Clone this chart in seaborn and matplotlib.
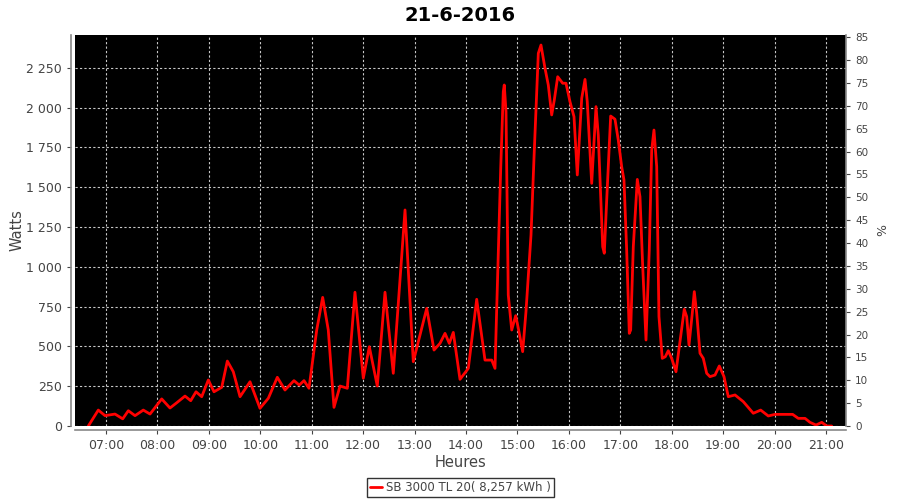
import matplotlib
matplotlib.use("Agg")
import matplotlib.pyplot as plt
import matplotlib.ticker as mticker
import seaborn as sns
import pandas as pd

title = "21-6-2016"
series_name = "SB 3000 TL 20( 8,257 kWh )"
hour_ticks = [7, 8, 9, 10, 11, 12, 13, 14, 15, 16, 17, 18, 19, 20, 21]
hour_labels = ["07:00", "08:00", "09:00", "10:00", "11:00", "12:00", "13:00", "14:00",
               "15:00", "16:00", "17:00", "18:00", "19:00", "20:00", "21:00"]
hours = [6.656, 6.850, 6.981, 7.175, 7.325, 7.434, 7.564, 7.725, 7.856,
         8.083, 8.244, 8.375, 8.536, 8.647, 8.750, 8.861, 8.989, 9.100,
         9.250, 9.359, 9.475, 9.606, 9.800, 9.994, 10.156, 10.331, 10.480,
         10.655, 10.758, 10.850, 10.947, 11.097, 11.213, 11.322, 11.433, 11.550,
         11.692, 11.841, 12.003, 12.120, 12.275, 12.425, 12.586, 12.814, 12.975,
         13.236, 13.378, 13.494, 13.592, 13.675, 13.753, 13.883, 14.045, 14.208,
         14.369, 14.500, 14.564, 14.675, 14.725, 14.744, 14.778, 14.822, 14.889,
         14.966, 15.017, 15.102, 15.166, 15.264, 15.322, 15.406, 15.458, 15.536,
         15.600, 15.666, 15.717, 15.783, 15.880, 15.944, 16.022, 16.100, 16.164,
         16.250, 16.314, 16.358, 16.444, 16.528, 16.572, 16.658, 16.689, 16.736,
         16.813, 16.897, 16.961, 17.027, 17.072, 17.124, 17.175, 17.202, 17.253,
         17.331, 17.383, 17.436, 17.500, 17.564, 17.611, 17.655, 17.708, 17.752,
         17.816, 17.875, 17.933, 17.999, 18.083, 18.174, 18.244, 18.291, 18.336,
         18.400, 18.439, 18.486, 18.550, 18.614, 18.680, 18.744, 18.842, 18.925,
         19.017, 19.100, 19.231, 19.392, 19.586, 19.730, 19.878, 20.008, 20.352,
         20.461, 20.592, 20.689, 20.806, 20.917, 21.014, 21.111]
watts = [0, 100, 65, 75, 45, 96, 65, 100, 75,
         170, 113, 146, 188, 159, 215, 184, 289, 215,
         243, 408, 341, 184, 278, 111, 174, 306, 226,
         285, 257, 285, 237, 603, 808, 603, 117, 251,
         237, 840, 300, 498, 251, 840, 331, 1357, 404,
         739, 477, 519, 582, 519, 588, 293, 362, 796,
         414, 414, 362, 1619, 2100, 2142, 1974, 823, 603,
         693, 614, 467, 718, 1200, 1682, 2341, 2393, 2247,
         2142, 1954, 2048, 2194, 2153, 2153, 2037, 1943, 1577,
         2059, 2177, 2037, 1524, 2006, 1828, 1126, 1085, 1420,
         1947, 1927, 1796, 1629, 1545, 1106, 582, 603, 1126,
         1549, 1440, 1001, 540, 1106, 1734, 1859, 1629, 687,
         425, 435, 473, 425, 341, 561, 733, 687, 509,
         708, 844, 708, 457, 425, 331, 310, 320, 377,
         310, 184, 195, 153, 80, 100, 63, 73, 73,
         48, 48, 23, 6, 23, 0, 0]

df = pd.DataFrame({"hour": hours, "watts": watts})

sns.set_style("white")
plt.rcParams["font.family"] = ["DejaVu Sans"]

fig = plt.figure(figsize=(9, 5), dpi=100)
ax = fig.add_axes([75 / 900, 1 - 426 / 500, (846 - 75) / 900, (426 - 35) / 500])
ax.set_facecolor("black")

sns.lineplot(data=df, x="hour", y="watts", ax=ax, color="#ff0000", linewidth=2.0,
             label=series_name, sort=True)
for ln in ax.get_lines():
    ln.set_solid_joinstyle("round")
    ln.set_solid_capstyle("round")

ax.set_xlim(6.397, 21.389)
ax.set_ylim(0, 2456)
ax.set_xticks(hour_ticks)
ax.set_xticklabels(hour_labels)
ax.yaxis.set_major_locator(mticker.MultipleLocator(250))
ax.yaxis.set_major_formatter(mticker.FuncFormatter(lambda v, p: f"{int(v):,}".replace(",", "\u00a0")))

ax.grid(True, color="#c8c8c8", linestyle=(0, (2, 2)), linewidth=0.8)
ax.tick_params(axis="both", colors="#444444", labelsize=9, length=3, width=0.8,
               direction="out", left=True, bottom=True)
for s in ["top", "right"]:
    ax.spines[s].set_visible(False)
for s in ["left", "bottom"]:
    ax.spines[s].set_color("#888888")
    ax.spines[s].set_linewidth(1.2)
    ax.spines[s].set_position(("outward", 3))

ax.set_xlabel("Heures", fontsize=10.5, color="#444444", labelpad=2)
ax.set_ylabel("Watts", fontsize=10.5, color="#444444")
ax.yaxis.set_label_coords(-0.066, 0.5)
ax.set_title(title, fontsize=14, fontweight="bold", color="black", pad=10)

ax2 = ax.twinx()
ax2.set_ylim(0, 85.5)
ax2.yaxis.set_major_locator(mticker.MultipleLocator(5))
ax2.tick_params(axis="y", colors="#444444", labelsize=7.5, length=3, width=0.8, right=True)
for s in ["top", "left", "bottom"]:
    ax2.spines[s].set_visible(False)
ax2.spines["right"].set_color("#888888")
ax2.spines["right"].set_linewidth(1.2)
ax2.set_ylabel("%", fontsize=9, color="#444444", labelpad=6)

leg = ax.legend(loc="upper center", bbox_to_anchor=(0.5, -0.133), frameon=True,
                fancybox=False, fontsize=8.5, handlelength=1.0, handletextpad=0.3,
                borderpad=0.25, borderaxespad=0)
leg.get_frame().set_edgecolor("black")
leg.get_frame().set_linewidth(1.0)
for t in leg.get_texts():
    t.set_color("#444444")

fig.savefig("out.png", dpi=100, facecolor="white")
